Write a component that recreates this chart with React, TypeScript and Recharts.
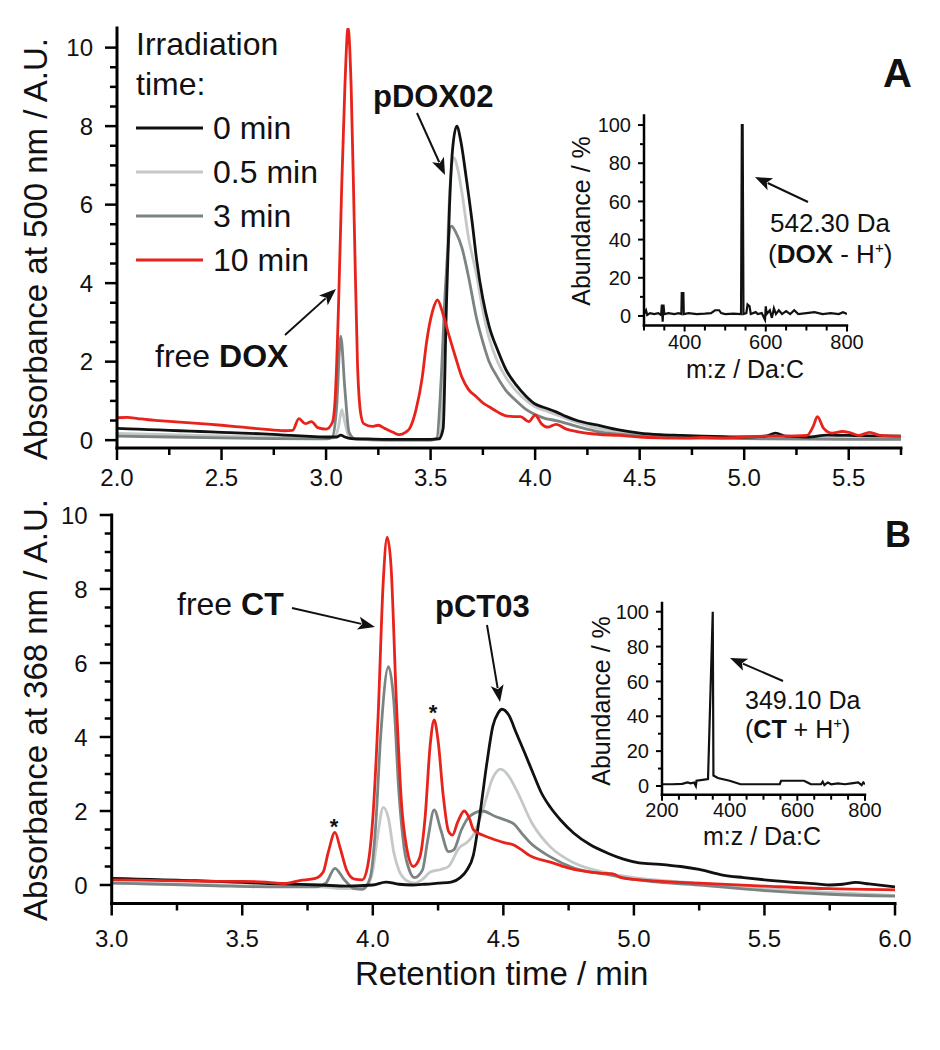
import React from 'react';
import { LineChart, Line, XAxis, YAxis } from 'recharts';

type Pt = [number, number];

const FONT = '"Liberation Sans", Arial, Helvetica, sans-serif';
const INK = '#111';

/* ---------------------------------------------------------------------------
   Legend / series
   --------------------------------------------------------------------------- */

const TIMES = ['0 min', '0.5 min', '3 min', '10 min'];
const COLORS = ['#111111', '#c4c8c8', '#7b8383', '#e8231b'];
// drawn light -> dark -> red so red sits on top
const DRAW_ORDER = [1, 2, 0, 3];

/* ---------------------------------------------------------------------------
   Panel A — absorbance at 500 nm (retention time, value)
   --------------------------------------------------------------------------- */

const A_0MIN: Pt[] = [
  [2.0, 0.30], [2.1, 0.28], [2.2, 0.26], [2.3, 0.24], [2.4, 0.22], [2.5, 0.20], [2.6, 0.18],
  [2.7, 0.16], [2.8, 0.13], [2.9, 0.10], [3.0, 0.08], [3.05, 0.08], [3.07, 0.13], [3.09, 0.08],
  [3.12, 0.04], [3.2, 0.03], [3.3, 0.02], [3.4, 0.02], [3.5, 0.02], [3.54, 0.03], [3.56, 0.3],
  [3.575, 3.3], [3.59, 5.9], [3.605, 7.4], [3.625, 8.0], [3.645, 7.6], [3.67, 6.7], [3.7, 5.5],
  [3.72, 4.6], [3.75, 3.6], [3.78, 2.9], [3.82, 2.3], [3.86, 1.8], [3.91, 1.4], [3.96, 1.1],
  [4.0, 0.92], [4.05, 0.82], [4.1, 0.72], [4.15, 0.6], [4.2, 0.5], [4.3, 0.38], [4.4, 0.26],
  [4.5, 0.18], [4.6, 0.14], [4.7, 0.12], [4.8, 0.1], [4.9, 0.09], [5.0, 0.08], [5.1, 0.1],
  [5.15, 0.18], [5.2, 0.1], [5.3, 0.08], [5.4, 0.13], [5.5, 0.12], [5.6, 0.11], [5.75, 0.1],
];

const A_05MIN: Pt[] = [
  [2.0, 0.17], [2.25, 0.14], [2.5, 0.11], [2.75, 0.08], [3.0, 0.05], [3.04, 0.06], [3.06, 0.35],
  [3.075, 0.78], [3.09, 0.45], [3.11, 0.08], [3.15, 0.02], [3.3, 0.0], [3.5, 0.0], [3.54, 0.05],
  [3.56, 1.5], [3.575, 4.0], [3.59, 6.2], [3.61, 7.2], [3.63, 6.9], [3.65, 6.3], [3.68, 5.2],
  [3.72, 4.2], [3.75, 3.3], [3.78, 2.6], [3.82, 2.0], [3.86, 1.6], [3.91, 1.25], [3.96, 1.0],
  [4.0, 0.85], [4.05, 0.75], [4.1, 0.65], [4.2, 0.45], [4.3, 0.3], [4.4, 0.2], [4.5, 0.13],
  [4.7, 0.08], [5.0, 0.05], [5.5, 0.04], [5.75, 0.03],
];

const A_3MIN: Pt[] = [
  [2.0, 0.10], [2.25, 0.08], [2.5, 0.06], [2.75, 0.04], [3.0, 0.03], [3.03, 0.08], [3.05, 0.8],
  [3.07, 2.65], [3.09, 1.3], [3.11, 0.2], [3.14, 0.03], [3.3, 0.0], [3.5, 0.0], [3.53, 0.05],
  [3.55, 1.5], [3.57, 3.8], [3.6, 5.45], [3.62, 5.3], [3.65, 4.9], [3.68, 4.2], [3.72, 3.1],
  [3.75, 2.5], [3.78, 2.0], [3.82, 1.6], [3.86, 1.27], [3.91, 1.0], [3.96, 0.77], [4.0, 0.65],
  [4.05, 0.55], [4.1, 0.5], [4.2, 0.35], [4.3, 0.22], [4.4, 0.15], [4.5, 0.1], [4.7, 0.06],
  [5.0, 0.04], [5.5, 0.02], [5.75, 0.02],
];

const A_10MIN: Pt[] = [
  [2.0, 0.57], [2.05, 0.58], [2.1, 0.55], [2.15, 0.52], [2.2, 0.5], [2.3, 0.46], [2.4, 0.42],
  [2.5, 0.38], [2.6, 0.33], [2.7, 0.28], [2.8, 0.24], [2.84, 0.25], [2.87, 0.55], [2.9, 0.42],
  [2.93, 0.47], [2.96, 0.32], [3.0, 0.28], [3.03, 0.45], [3.045, 1.2], [3.06, 3.5], [3.075, 6.5],
  [3.09, 9.0], [3.105, 10.5], [3.12, 9.0], [3.135, 5.5], [3.15, 2.0], [3.165, 0.7], [3.18, 0.42],
  [3.22, 0.35], [3.25, 0.38], [3.28, 0.3], [3.32, 0.2], [3.35, 0.14], [3.38, 0.2], [3.4, 0.3],
  [3.43, 0.77], [3.46, 1.6], [3.48, 2.47], [3.51, 3.3], [3.533, 3.57], [3.56, 3.2], [3.59, 2.63],
  [3.62, 2.1], [3.65, 1.6], [3.68, 1.3], [3.72, 1.1], [3.75, 0.95], [3.78, 0.85], [3.82, 0.72],
  [3.86, 0.62], [3.9, 0.6], [3.93, 0.6], [3.97, 0.47], [4.0, 0.64], [4.03, 0.42], [4.06, 0.33],
  [4.1, 0.4], [4.15, 0.28], [4.2, 0.22], [4.3, 0.15], [4.4, 0.12], [4.5, 0.08], [4.6, 0.06],
  [4.7, 0.05], [4.8, 0.07], [4.9, 0.06], [5.0, 0.08], [5.1, 0.1], [5.2, 0.1], [5.3, 0.12],
  [5.33, 0.35], [5.35, 0.6], [5.38, 0.3], [5.42, 0.18], [5.47, 0.22], [5.5, 0.2], [5.55, 0.12],
  [5.6, 0.2], [5.65, 0.12], [5.75, 0.1],
];

/* ---------------------------------------------------------------------------
   Panel B — absorbance at 368 nm
   --------------------------------------------------------------------------- */

const B_0MIN: Pt[] = [
  [3.0, 0.18], [3.1, 0.16], [3.2, 0.14], [3.3, 0.12], [3.4, 0.1], [3.5, 0.07], [3.6, 0.04],
  [3.7, 0.02], [3.8, 0.0], [3.9, -0.03], [4.0, 0.0], [4.05, 0.08], [4.1, 0.02], [4.15, 0.0],
  [4.2, 0.02], [4.25, 0.05], [4.3, 0.08], [4.335, 0.2], [4.36, 0.4], [4.385, 0.8], [4.41, 1.9],
  [4.437, 3.3], [4.46, 4.3], [4.48, 4.65], [4.495, 4.75], [4.52, 4.6], [4.55, 4.1], [4.58, 3.6],
  [4.615, 3.0], [4.645, 2.5], [4.68, 2.1], [4.72, 1.75], [4.77, 1.4], [4.83, 1.1], [4.9, 0.86],
  [4.96, 0.7], [5.02, 0.6], [5.1, 0.56], [5.18, 0.5], [5.25, 0.42], [5.34, 0.27], [5.42, 0.2],
  [5.5, 0.14], [5.6, 0.08], [5.7, 0.03], [5.75, 0.0], [5.8, 0.02], [5.85, 0.07], [5.9, 0.03],
  [6.0, -0.05],
];

const B_05MIN: Pt[] = [
  [3.0, 0.05], [3.2, 0.02], [3.4, 0.0], [3.6, -0.03], [3.8, -0.05], [3.9, -0.1], [3.95, -0.1],
  [3.98, 0.0], [4.0, 0.4], [4.02, 1.4], [4.04, 2.1], [4.06, 1.8], [4.08, 0.9], [4.1, 0.4],
  [4.13, 0.12], [4.16, 0.05], [4.19, 0.15], [4.22, 0.35], [4.26, 0.42], [4.29, 0.5], [4.33, 1.0],
  [4.36, 1.15], [4.385, 1.35], [4.42, 2.0], [4.46, 2.9], [4.49, 3.13], [4.52, 2.95], [4.55, 2.57],
  [4.61, 1.67], [4.68, 1.03], [4.77, 0.6], [4.9, 0.32], [5.0, 0.2], [5.25, 0.05], [5.5, -0.1],
  [5.75, -0.2], [6.0, -0.28],
];

const B_3MIN: Pt[] = [
  [3.0, 0.05], [3.2, 0.02], [3.4, -0.02], [3.6, -0.05], [3.78, -0.05], [3.82, 0.05], [3.855, 0.45],
  [3.89, 0.15], [3.93, -0.1], [3.96, -0.12], [3.99, 0.2], [4.01, 1.5], [4.03, 4.0], [4.06, 5.9],
  [4.08, 5.0], [4.1, 2.5], [4.12, 1.0], [4.14, 0.4], [4.16, 0.2], [4.19, 0.4], [4.21, 1.2],
  [4.235, 2.03], [4.26, 1.5], [4.29, 0.9], [4.31, 0.95], [4.34, 1.5], [4.37, 1.85], [4.42, 2.0],
  [4.47, 1.85], [4.51, 1.75], [4.54, 1.65], [4.57, 1.4], [4.6, 1.16], [4.68, 0.76], [4.77, 0.46],
  [4.9, 0.28], [5.0, 0.15], [5.25, 0.0], [5.5, -0.15], [5.75, -0.25], [6.0, -0.3],
];

const B_10MIN: Pt[] = [
  [3.0, 0.14], [3.2, 0.12], [3.4, 0.1], [3.5, 0.1], [3.6, 0.07], [3.66, 0.04], [3.72, 0.12],
  [3.78, 0.18], [3.81, 0.35], [3.83, 0.9], [3.855, 1.42], [3.875, 1.0], [3.9, 0.4], [3.93, 0.16],
  [3.96, 0.14], [3.98, 0.5], [4.0, 1.8], [4.02, 4.5], [4.04, 8.2], [4.055, 9.4], [4.07, 8.6],
  [4.09, 5.0], [4.11, 2.2], [4.13, 1.0], [4.155, 0.5], [4.18, 0.75], [4.2, 1.8], [4.22, 3.8],
  [4.235, 4.46], [4.25, 3.9], [4.27, 2.4], [4.29, 1.45], [4.305, 1.35], [4.325, 1.7], [4.35, 2.0],
  [4.37, 1.8], [4.385, 1.5], [4.42, 1.35], [4.45, 1.27], [4.5, 1.15], [4.54, 1.08], [4.57, 0.95],
  [4.6, 0.8], [4.68, 0.62], [4.77, 0.42], [4.87, 0.32], [4.92, 0.3], [4.95, 0.2], [5.0, 0.15],
  [5.25, 0.05], [5.5, -0.03], [5.75, -0.1], [6.0, -0.13],
];

/* ---------------------------------------------------------------------------
   Inset mass spectra (m/z, abundance %)
   --------------------------------------------------------------------------- */

const MS_DOX: Pt[] = [
  [300, 1], [305, 3], [308, 0.5], [315, 1.5], [325, 1], [335, 1.5], [342, 0.5], [344, 6],
  [346, -3], [348, 6], [350, 1], [360, 1.5], [375, 1], [385, 1.5], [392, 1], [393, 12], [397, 12],
  [398, 1], [410, 1.5], [430, 1], [450, 1.2], [465, 1.5], [475, 3], [485, 3], [490, 1.5],
  [500, 1], [520, 1.2], [539, 1], [541, 100], [543, 100], [545, 1], [552, 1.5], [555, 6],
  [560, 5], [563, 1], [575, 2], [580, 1], [590, 1.5], [598, -2], [600, 5], [602, 1], [610, 3],
  [615, -1], [620, 4], [625, 1], [632, 3], [640, 1], [650, 2.5], [660, 1], [670, 3], [680, 1],
  [700, 1.5], [720, 2], [740, 1], [760, 1.5], [780, 1], [790, 2], [800, 1],
];

const MS_CT: Pt[] = [
  [200, 1], [230, 1], [260, 1.2], [275, 2], [285, 1.5], [295, 2], [300, 0], [302, 3], [320, 3.5],
  [336, 4], [350, 100], [352, 6], [365, 4.6], [400, 3], [432, 1], [500, 1], [548, 1], [552, 3],
  [600, 3], [620, 3], [630, 2], [640, 1], [670, 1], [675, 2.5], [680, 0.5], [690, 2], [700, 1],
  [720, 1.5], [740, 1], [760, 1.5], [780, 2], [790, 0.5], [795, 2], [800, 1],
];

/* ---------------------------------------------------------------------------
   Ticks
   --------------------------------------------------------------------------- */

const X_TICKS_A = [2, 2.25, 2.5, 2.75, 3, 3.25, 3.5, 3.75, 4, 4.25, 4.5, 4.75, 5, 5.25, 5.5, 5.75];
const X_LABELS_A = [2, 2.5, 3, 3.5, 4, 4.5, 5, 5.5];
const X_TICKS_B = [3, 3.25, 3.5, 3.75, 4, 4.25, 4.5, 4.75, 5, 5.25, 5.5, 5.75, 6];
const X_LABELS_B = [3, 3.5, 4, 4.5, 5, 5.5, 6];
const Y_TICKS = [0, 0.5, 1, 1.5, 2, 2.5, 3, 3.5, 4, 4.5, 5, 5.5, 6, 6.5, 7, 7.5, 8, 8.5, 9, 9.5, 10];
const Y_LABELS = [0, 2, 4, 6, 8, 10];

const MS_X_TICKS_DOX = [300, 350, 400, 450, 500, 550, 600, 650, 700, 750, 800];
const MS_X_LABELS_DOX = [400, 600, 800];
const MS_X_TICKS_CT = [200, 250, 300, 350, 400, 450, 500, 550, 600, 650, 700, 750, 800];
const MS_X_LABELS_CT = [200, 400, 600, 800];
const MS_Y_TICKS = [0, 10, 20, 30, 40, 50, 60, 70, 80, 90, 100];
const MS_Y_LABELS = [0, 20, 40, 60, 80, 100];

/* ---------------------------------------------------------------------------
   Helpers
   --------------------------------------------------------------------------- */

const rows = (pts: Pt[]) => pts.map(([t, v]) => ({ t, v }));
const has = (list: number[], v: number) => list.some(l => Math.abs(l - v) < 1e-6);

function XTick(props: any) {
  const { x, y, payload, labels, len, minorLen, size, dy, digits, sw } = props;
  const v = payload.value as number;
  const major = has(labels, v);
  return (
    <g>
      <line x1={x} x2={x} y1={y} y2={y + (major ? len : minorLen)} stroke="#000" strokeWidth={sw} />
      {major && (
        <text x={x} y={y + dy} textAnchor="middle" fontSize={size} fontFamily={FONT} fill={INK}>
          {v.toFixed(digits)}
        </text>
      )}
    </g>
  );
}

function YTick(props: any) {
  const { x, y, payload, labels, len, minorLen, size, gap, sw } = props;
  const v = payload.value as number;
  const major = has(labels, v);
  return (
    <g>
      <line x1={x} x2={x - (major ? len : minorLen)} y1={y} y2={y} stroke="#000" strokeWidth={sw} />
      {major && (
        <text x={x - gap} y={y} dy="0.36em" textAnchor="end" fontSize={size} fontFamily={FONT} fill={INK}>
          {v}
        </text>
      )}
    </g>
  );
}

function Arrow({ x1, y1, x2, y2, head = 17, wing = 6.5 }: {
  x1: number; y1: number; x2: number; y2: number; head?: number; wing?: number;
}) {
  const dx = x2 - x1;
  const dy = y2 - y1;
  const L = Math.hypot(dx, dy);
  const ux = dx / L;
  const uy = dy / L;
  const bx = x2 - ux * head;
  const by = y2 - uy * head;
  const pts = `${x2},${y2} ${bx - uy * wing},${by + ux * wing} ${bx + ux * 4},${by + uy * 4} ${bx + uy * wing},${by - ux * wing}`;
  return (
    <g>
      <line x1={x1} y1={y1} x2={bx + ux * 3} y2={by + uy * 3} stroke={INK} strokeWidth={2} />
      <polygon points={pts} fill={INK} />
    </g>
  );
}

const MAIN_AXIS = { stroke: '#000', strokeWidth: 3, strokeLinecap: 'square' as const };
const INSET_AXIS = { stroke: '#000', strokeWidth: 2.5, strokeLinecap: 'square' as const };

/* ---------------------------------------------------------------------------
   Charts
   --------------------------------------------------------------------------- */

function Chromatogram({
  series, xDomain, yDomain, xTicks, xLabels, xLabelDy, width, height, margin,
}: {
  series: Pt[][];
  xDomain: [number, number];
  yDomain: [number, number];
  xTicks: number[];
  xLabels: number[];
  xLabelDy: number;
  width: number;
  height: number;
  margin: { top: number; right: number; bottom: number; left: number };
}) {
  return (
    <LineChart width={width} height={height} margin={margin}>
      <XAxis
        type="number"
        dataKey="t"
        domain={xDomain}
        ticks={xTicks}
        interval={0}
        height={30}
        tickSize={0}
        tickMargin={0}
        axisLine={MAIN_AXIS}
        tickLine={false}
        allowDataOverflow
        tick={(p: any) => (
          <XTick {...p} labels={xLabels} len={12} minorLen={7} size={24} dy={xLabelDy} digits={1} sw={2.5} />
        )}
      />
      <YAxis
        type="number"
        domain={yDomain}
        ticks={Y_TICKS}
        interval={0}
        width={60}
        tickSize={0}
        tickMargin={0}
        axisLine={MAIN_AXIS}
        tickLine={false}
        allowDataOverflow
        tick={(p: any) => (
          <YTick {...p} labels={Y_LABELS} len={12} minorLen={7} size={24} gap={24} sw={2.5} />
        )}
      />
      {DRAW_ORDER.map(i => (
        <Line
          key={TIMES[i]}
          data={rows(series[i])}
          dataKey="v"
          name={TIMES[i]}
          type="monotone"
          stroke={COLORS[i]}
          strokeWidth={2.8}
          dot={false}
          activeDot={false}
          isAnimationActive={false}
        />
      ))}
    </LineChart>
  );
}

function MassInset({
  pts, xDomain, xTicks, xLabels, xLabelDy, width, height, margin,
}: {
  pts: Pt[];
  xDomain: [number, number];
  xTicks: number[];
  xLabels: number[];
  xLabelDy: number;
  width: number;
  height: number;
  margin: { top: number; right: number; bottom: number; left: number };
}) {
  return (
    <LineChart width={width} height={height} margin={margin}>
      <XAxis
        type="number"
        dataKey="t"
        domain={xDomain}
        ticks={xTicks}
        interval={0}
        height={25}
        tickSize={0}
        tickMargin={0}
        axisLine={INSET_AXIS}
        tickLine={false}
        allowDataOverflow
        tick={(p: any) => (
          <XTick {...p} labels={xLabels} len={6} minorLen={5} size={20} dy={xLabelDy} digits={0} sw={2} />
        )}
      />
      <YAxis
        type="number"
        domain={[-5, 105]}
        ticks={MS_Y_TICKS}
        interval={0}
        width={40}
        tickSize={0}
        tickMargin={0}
        axisLine={INSET_AXIS}
        tickLine={false}
        allowDataOverflow
        tick={(p: any) => (
          <YTick {...p} labels={MS_Y_LABELS} len={6} minorLen={4} size={20} gap={13} sw={2} />
        )}
      />
      <Line
        data={rows(pts)}
        dataKey="v"
        type="linear"
        stroke={INK}
        strokeWidth={2.2}
        dot={false}
        activeDot={false}
        isAnimationActive={false}
      />
    </LineChart>
  );
}

/* ---------------------------------------------------------------------------
   App
   --------------------------------------------------------------------------- */

export default function App() {
  const abs = (left: number, top: number): React.CSSProperties => ({ position: 'absolute', left, top });
  return (
    <div style={{ position: 'absolute', left: 0, top: 0, width: 940, height: 1050, background: '#fff', overflow: 'hidden' }}>
      <div style={abs(0, 0)}>
        <Chromatogram
          series={[A_0MIN, A_05MIN, A_3MIN, A_10MIN]}
          xDomain={[2, 5.75]}
          yDomain={[-0.2, 10.5]}
          xTicks={X_TICKS_A}
          xLabels={X_LABELS_A}
          xLabelDy={38}
          width={940}
          height={490}
          margin={{ top: 28, right: 39, bottom: 12, left: 57 }}
        />
      </div>
      <div style={abs(0, 490)}>
        <Chromatogram
          series={[B_0MIN, B_05MIN, B_3MIN, B_10MIN]}
          xDomain={[3, 6]}
          yDomain={[-0.5, 10]}
          xTicks={X_TICKS_B}
          xLabels={X_LABELS_B}
          xLabelDy={43}
          width={940}
          height={460}
          margin={{ top: 25, right: 45, bottom: 16.5, left: 51.7 }}
        />
      </div>
      <div style={abs(560, 90)}>
        <MassInset
          pts={MS_DOX}
          xDomain={[300, 800]}
          xTicks={MS_X_TICKS_DOX}
          xLabels={MS_X_LABELS_DOX}
          xLabelDy={23}
          width={320}
          height={290}
          margin={{ top: 25.5, right: 33, bottom: 29.5, left: 44 }}
        />
      </div>
      <div style={abs(580, 580)}>
        <MassInset
          pts={MS_CT}
          xDomain={[200, 800]}
          xTicks={MS_X_TICKS_CT}
          xLabels={MS_X_LABELS_CT}
          xLabelDy={22}
          width={320}
          height={260}
          margin={{ top: 23, right: 35, bottom: 20.3, left: 42 }}
        />
      </div>

      {/* annotations, legend and axis titles */}
      <svg width={940} height={1050} style={{ position: 'absolute', left: 0, top: 0, pointerEvents: 'none' }}
        fontFamily={FONT} fill={INK}>
        <text transform="translate(47,249) rotate(-90)" textAnchor="middle" fontSize={33}>
          Absorbance at 500 nm / A.U.
        </text>
        <text transform="translate(47,710) rotate(-90)" textAnchor="middle" fontSize={33}>
          Absorbance at 368 nm / A.U.
        </text>
        <text x={355} y={985} fontSize={33}>Retention time / min</text>

        {/* legend */}
        <text x={136} y={55} fontSize={32}>Irradiation</text>
        <text x={136} y={95} fontSize={32}>time:</text>
        {TIMES.map((t, i) => (
          <g key={t}>
            <line x1={136} x2={203} y1={128 + i * 44} y2={128 + i * 44} stroke={COLORS[i]} strokeWidth={3} />
            <text x={213} y={139 + i * 44} fontSize={32}>{t}</text>
          </g>
        ))}

        {/* panel A */}
        <text x={883} y={87} fontSize={40} fontWeight="bold">A</text>
        <text x={373} y={107} fontSize={31} fontWeight="bold">pDOX02</text>
        <Arrow x1={417} y1={113} x2={445} y2={175} />
        <text x={155} y={367} fontSize={32}>free <tspan fontWeight="bold">DOX</tspan></text>
        <Arrow x1={285} y1={335} x2={336} y2={289} />
        <text transform="translate(590,221) rotate(-90)" textAnchor="middle" fontSize={25}>Abundance / %</text>
        <text x={745} y={378} textAnchor="middle" fontSize={25}>m:z / Da:C</text>
        <text x={770} y={232} fontSize={26}>542.30 Da</text>
        <text x={768} y={263} fontSize={26}>
          (<tspan fontWeight="bold">DOX</tspan> - H<tspan dy={-10} fontSize={15}>+</tspan><tspan dy={10}>)</tspan>
        </text>
        <Arrow x1={808} y1={202} x2={755} y2={177} />

        {/* panel B */}
        <text x={885} y={547} fontSize={36} fontWeight="bold">B</text>
        <text x={177} y={615} fontSize={32}>free <tspan fontWeight="bold">CT</tspan></text>
        <Arrow x1={292} y1={608} x2={375} y2={627} />
        <text x={435} y={617} fontSize={31} fontWeight="bold">pCT03</text>
        <Arrow x1={487} y1={625} x2={500} y2={702} />
        <text x={334} y={834} textAnchor="middle" fontSize={22} fontWeight="bold">*</text>
        <text x={433} y={720} textAnchor="middle" fontSize={22} fontWeight="bold">*</text>
        <text transform="translate(610,701) rotate(-90)" textAnchor="middle" fontSize={25}>Abundance / %</text>
        <text x={762} y={845} textAnchor="middle" fontSize={25}>m:z / Da:C</text>
        <text x={745} y={709} fontSize={25}>349.10 Da</text>
        <text x={745} y={738} fontSize={25}>
          (<tspan fontWeight="bold">CT</tspan> + H<tspan dy={-10} fontSize={15}>+</tspan><tspan dy={10}>)</tspan>
        </text>
        <Arrow x1={783} y1={681} x2={730} y2={658} />
      </svg>
    </div>
  );
}
